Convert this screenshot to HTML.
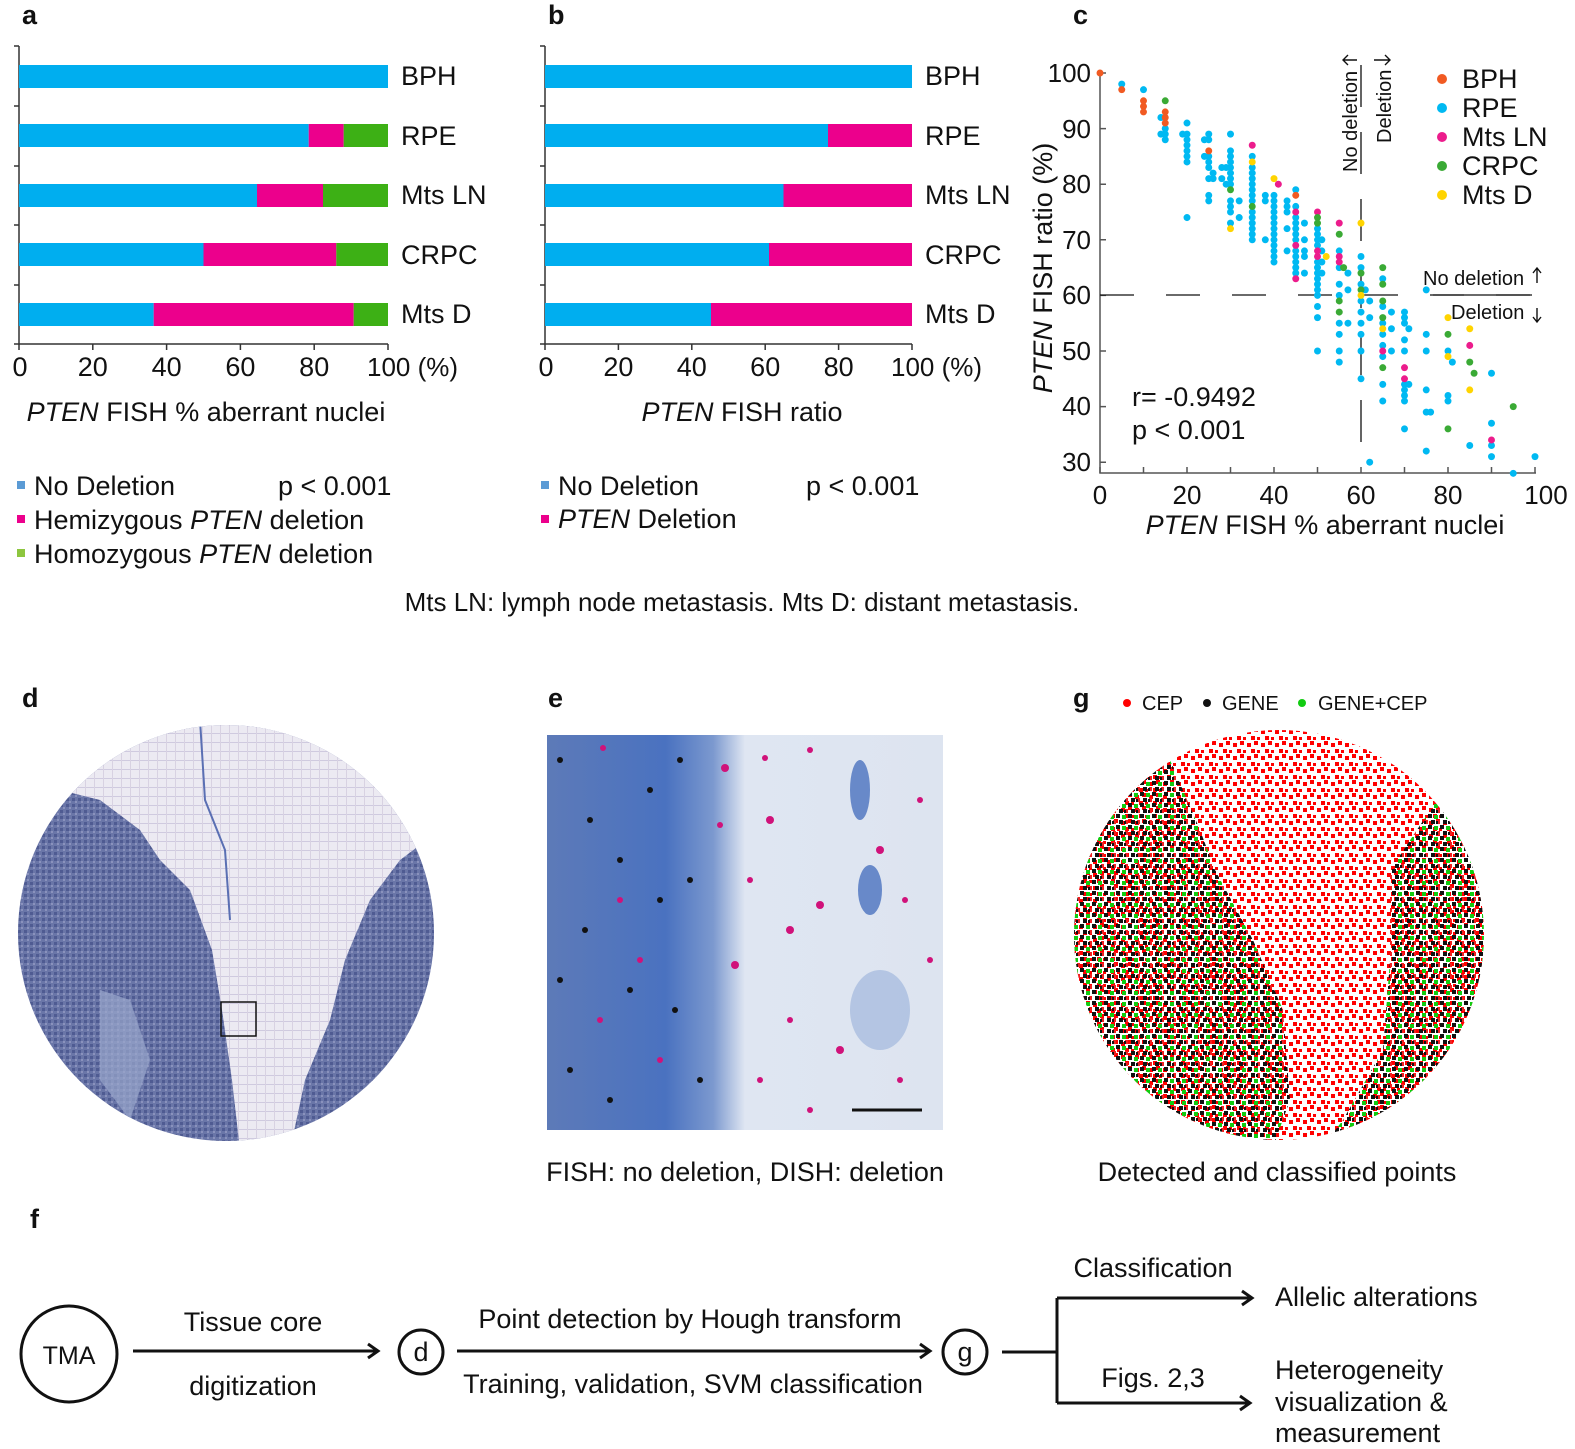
<!DOCTYPE html>
<html><head><meta charset="utf-8"><style>
html,body{margin:0;padding:0;background:#fff}
svg{display:block;font-family:"Liberation Sans",Arial,sans-serif}
</style></head><body>
<svg width="1575" height="1449" viewBox="0 0 1575 1449" xmlns="http://www.w3.org/2000/svg">
<defs>
<pattern id="redp" width="14" height="13" patternUnits="userSpaceOnUse">
<rect x="1" y="2" width="4" height="4" fill="#f00"/><rect x="8" y="0" width="4" height="4" fill="#f00"/><rect x="5" y="8" width="4" height="4" fill="#f00"/><rect x="11" y="9" width="3" height="3" fill="#f00"/>
</pattern>
<pattern id="darkp" width="12" height="11" patternUnits="userSpaceOnUse">
<rect x="0" y="0" width="4" height="4" fill="#111"/><rect x="6" y="1" width="4" height="4" fill="#1c1"/><rect x="3" y="6" width="4" height="4" fill="#111"/><rect x="9" y="6" width="3" height="4" fill="#e22"/><rect x="8" y="7" width="2" height="3" fill="#111"/>
</pattern>
<pattern id="bluep" width="6" height="6" patternUnits="userSpaceOnUse">
<rect width="6" height="6" fill="#6a76a8"/><rect x="0" y="0" width="3" height="3" fill="#4f5b92"/><rect x="3" y="3" width="2" height="2" fill="#8a92bd"/>
</pattern>
<pattern id="lightp" width="9" height="9" patternUnits="userSpaceOnUse">
<rect width="9" height="9" fill="#eceaf2"/><rect x="0" y="4" width="9" height="1" fill="#cfcadf"/><rect x="4" y="0" width="1" height="9" fill="#d8d2e2"/>
</pattern>
<linearGradient id="eg" x1="0" x2="1" y1="0" y2="0">
<stop offset="0" stop-color="#5d7ab8"/><stop offset="0.3" stop-color="#4a72c0"/><stop offset="0.42" stop-color="#7c99cf"/><stop offset="0.5" stop-color="#dfe6f2"/><stop offset="1" stop-color="#dde4f0"/>
</linearGradient>
<clipPath id="cd"><circle cx="226" cy="933" r="208"/></clipPath>
<clipPath id="cg"><circle cx="1279" cy="935" r="205"/></clipPath>
</defs>

<g font-weight="bold" font-size="27" fill="#111">
<text x="22" y="24">a</text><text x="548" y="24">b</text><text x="1073" y="24">c</text>
<text x="22" y="707">d</text><text x="548" y="707">e</text><text x="1073" y="707">g</text>
<text x="30" y="1228">f</text>
</g>

<!-- Panel a -->
<g stroke="#333" stroke-width="1.5" fill="none">
<path d="M19 46 V344 H388"/>
<path d="M14 46H19M14 106H19M14 166H19M14 225H19M14 285H19M14 344H19"/>
<path d="M19 344V350M92.8 344V350M166.6 344V350M240.4 344V350M314.2 344V350M388 344V350"/>
</g>
<g>
<rect x="19" y="65" width="369" height="23" fill="#00aeef"/>
<rect x="19" y="124" width="289.7" height="23" fill="#00aeef"/><rect x="308.7" y="124" width="35" height="23" fill="#ec008c"/><rect x="343.7" y="124" width="44.3" height="23" fill="#3db015"/>
<rect x="19" y="184" width="238" height="23" fill="#00aeef"/><rect x="257" y="184" width="66" height="23" fill="#ec008c"/><rect x="323" y="184" width="65" height="23" fill="#3db015"/>
<rect x="19" y="243" width="184.5" height="23" fill="#00aeef"/><rect x="203.5" y="243" width="132.8" height="23" fill="#ec008c"/><rect x="336.3" y="243" width="51.7" height="23" fill="#3db015"/>
<rect x="19" y="303" width="134.7" height="23" fill="#00aeef"/><rect x="153.7" y="303" width="200" height="23" fill="#ec008c"/><rect x="353.7" y="303" width="34.3" height="23" fill="#3db015"/>
</g>
<g font-size="27" fill="#111">
<text x="401" y="85">BPH</text><text x="401" y="145">RPE</text><text x="401" y="204">Mts LN</text><text x="401" y="264">CRPC</text><text x="401" y="323">Mts D</text>
<g text-anchor="middle"><text x="20" y="376">0</text><text x="92.8" y="376">20</text><text x="166.6" y="376">40</text><text x="240.4" y="376">60</text><text x="314.2" y="376">80</text></g>
<text x="367" y="376" font-size="26">100 (%)</text>
<text x="206" y="421" text-anchor="middle"><tspan font-style="italic">PTEN</tspan> FISH % aberrant nuclei</text>
</g>

<!-- Panel b -->
<g stroke="#333" stroke-width="1.5" fill="none">
<path d="M545 46 V344 H912"/>
<path d="M540 46H545M540 106H545M540 166H545M540 225H545M540 285H545M540 344H545"/>
<path d="M545 344V350M618.4 344V350M691.8 344V350M765.2 344V350M838.6 344V350M912 344V350"/>
</g>
<g>
<rect x="545" y="65" width="367" height="23" fill="#00aeef"/>
<rect x="545" y="124" width="283" height="23" fill="#00aeef"/><rect x="828" y="124" width="84" height="23" fill="#ec008c"/>
<rect x="545" y="184" width="238.5" height="23" fill="#00aeef"/><rect x="783.5" y="184" width="128.5" height="23" fill="#ec008c"/>
<rect x="545" y="243" width="224" height="23" fill="#00aeef"/><rect x="769" y="243" width="143" height="23" fill="#ec008c"/>
<rect x="545" y="303" width="166" height="23" fill="#00aeef"/><rect x="711" y="303" width="201" height="23" fill="#ec008c"/>
</g>
<g font-size="27" fill="#111">
<text x="925" y="85">BPH</text><text x="925" y="145">RPE</text><text x="925" y="204">Mts LN</text><text x="925" y="264">CRPC</text><text x="925" y="323">Mts D</text>
<g text-anchor="middle"><text x="546" y="376">0</text><text x="618.4" y="376">20</text><text x="691.8" y="376">40</text><text x="765.2" y="376">60</text><text x="838.6" y="376">80</text></g>
<text x="891" y="376" font-size="26">100 (%)</text>
<text x="742" y="421" text-anchor="middle"><tspan font-style="italic">PTEN</tspan> FISH ratio</text>
</g>

<g font-size="27" fill="#111">
<rect x="17" y="481" width="8" height="8" fill="#5b9bd5"/><text x="34" y="495">No Deletion</text><text x="278" y="495">p &lt; 0.001</text>
<rect x="17" y="515" width="8" height="8" fill="#ec008c"/><text x="34" y="529">Hemizygous <tspan font-style="italic">PTEN</tspan> deletion</text>
<rect x="17" y="549" width="8" height="8" fill="#8dc63f"/><text x="34" y="563">Homozygous <tspan font-style="italic">PTEN</tspan> deletion</text>
<rect x="541" y="481" width="8" height="8" fill="#5b9bd5"/><text x="558" y="495">No Deletion</text><text x="806" y="495">p &lt; 0.001</text>
<rect x="541" y="515" width="8" height="8" fill="#ec008c"/><text x="558" y="528"><tspan font-style="italic">PTEN</tspan> Deletion</text>
<text x="742" y="611" text-anchor="middle" font-size="26">Mts LN: lymph node metastasis. Mts D: distant metastasis.</text>
</g>

<!-- Panel c -->
<g stroke="#555" stroke-width="1.5" fill="none">
<path d="M1100 70 V473 H1536"/>
<path d="M1100 73H1106M1100 128.6H1106M1100 184.2H1106M1100 239.8H1106M1100 295.4H1106M1100 351H1106M1100 406.6H1106M1100 462.2H1106"/>
<path d="M1100 473V467M1143.5 473V467M1187 473V467M1230.5 473V467M1274 473V467M1317.5 473V467M1361 473V467M1404.5 473V467M1448 473V467M1491.5 473V467M1535 473V467"/>
</g>
<g stroke="#111" stroke-width="1.3" fill="none">
<path d="M1100 295 H1535" stroke-dasharray="34 32"/>
<path d="M1361 65 V460" stroke-dasharray="42 25"/>
<path d="M1433 295 H1532"/>
</g>
<g transform="matrix(4.35 0 0 -5.56 1100 629)">
<g fill="#00b9f2">
<ellipse cx="5" cy="98" rx="0.8" ry="0.63"/><ellipse cx="10" cy="97" rx="0.8" ry="0.63"/>
<ellipse cx="14" cy="92" rx="0.8" ry="0.63"/><ellipse cx="14" cy="89" rx="0.8" ry="0.63"/>
<ellipse cx="15" cy="90" rx="0.8" ry="0.63"/><ellipse cx="15" cy="89" rx="0.8" ry="0.63"/><ellipse cx="15" cy="88" rx="0.8" ry="0.63"/>
<ellipse cx="19" cy="89" rx="0.8" ry="0.63"/>
<ellipse cx="20" cy="91" rx="0.8" ry="0.63"/><ellipse cx="20" cy="89" rx="0.8" ry="0.63"/><ellipse cx="20" cy="88" rx="0.8" ry="0.63"/><ellipse cx="20" cy="87" rx="0.8" ry="0.63"/><ellipse cx="20" cy="86" rx="0.8" ry="0.63"/><ellipse cx="20" cy="85" rx="0.8" ry="0.63"/><ellipse cx="20" cy="84" rx="0.8" ry="0.63"/><ellipse cx="20" cy="74" rx="0.8" ry="0.63"/>
<ellipse cx="24" cy="88" rx="0.8" ry="0.63"/><ellipse cx="24" cy="85" rx="0.8" ry="0.63"/>
<ellipse cx="25" cy="89" rx="0.8" ry="0.63"/><ellipse cx="25" cy="88" rx="0.8" ry="0.63"/><ellipse cx="25" cy="85" rx="0.8" ry="0.63"/><ellipse cx="25" cy="84" rx="0.8" ry="0.63"/><ellipse cx="25" cy="83" rx="0.8" ry="0.63"/><ellipse cx="25" cy="81" rx="0.8" ry="0.63"/><ellipse cx="25" cy="78" rx="0.8" ry="0.63"/><ellipse cx="25" cy="77" rx="0.8" ry="0.63"/>
<ellipse cx="26" cy="82" rx="0.8" ry="0.63"/><ellipse cx="26" cy="81" rx="0.8" ry="0.63"/>
<ellipse cx="28" cy="83" rx="0.8" ry="0.63"/><ellipse cx="28" cy="81" rx="0.8" ry="0.63"/><ellipse cx="29" cy="83" rx="0.8" ry="0.63"/><ellipse cx="29" cy="80" rx="0.8" ry="0.63"/>
<ellipse cx="30" cy="89" rx="0.8" ry="0.63"/><ellipse cx="30" cy="86" rx="0.8" ry="0.63"/><ellipse cx="30" cy="85" rx="0.8" ry="0.63"/><ellipse cx="30" cy="84" rx="0.8" ry="0.63"/><ellipse cx="30" cy="83" rx="0.8" ry="0.63"/><ellipse cx="30" cy="82" rx="0.8" ry="0.63"/><ellipse cx="30" cy="81" rx="0.8" ry="0.63"/><ellipse cx="30" cy="80" rx="0.8" ry="0.63"/><ellipse cx="30" cy="77" rx="0.8" ry="0.63"/><ellipse cx="30" cy="76" rx="0.8" ry="0.63"/><ellipse cx="30" cy="75" rx="0.8" ry="0.63"/><ellipse cx="30" cy="73" rx="0.8" ry="0.63"/>
<ellipse cx="32" cy="77" rx="0.8" ry="0.63"/><ellipse cx="32" cy="74" rx="0.8" ry="0.63"/>
<ellipse cx="35" cy="85" rx="0.8" ry="0.63"/><ellipse cx="35" cy="83" rx="0.8" ry="0.63"/><ellipse cx="35" cy="82" rx="0.8" ry="0.63"/><ellipse cx="35" cy="81" rx="0.8" ry="0.63"/><ellipse cx="35" cy="80" rx="0.8" ry="0.63"/><ellipse cx="35" cy="79" rx="0.8" ry="0.63"/><ellipse cx="35" cy="78" rx="0.8" ry="0.63"/><ellipse cx="35" cy="77" rx="0.8" ry="0.63"/><ellipse cx="35" cy="75" rx="0.8" ry="0.63"/><ellipse cx="35" cy="74" rx="0.8" ry="0.63"/><ellipse cx="35" cy="73" rx="0.8" ry="0.63"/><ellipse cx="35" cy="72" rx="0.8" ry="0.63"/><ellipse cx="35" cy="71" rx="0.8" ry="0.63"/><ellipse cx="35" cy="70" rx="0.8" ry="0.63"/>
<ellipse cx="38" cy="78" rx="0.8" ry="0.63"/><ellipse cx="38" cy="77" rx="0.8" ry="0.63"/><ellipse cx="38" cy="70" rx="0.8" ry="0.63"/>
<ellipse cx="40" cy="78" rx="0.8" ry="0.63"/><ellipse cx="40" cy="77" rx="0.8" ry="0.63"/><ellipse cx="40" cy="76" rx="0.8" ry="0.63"/><ellipse cx="40" cy="75" rx="0.8" ry="0.63"/><ellipse cx="40" cy="74" rx="0.8" ry="0.63"/><ellipse cx="40" cy="73" rx="0.8" ry="0.63"/><ellipse cx="40" cy="72" rx="0.8" ry="0.63"/><ellipse cx="40" cy="71" rx="0.8" ry="0.63"/><ellipse cx="40" cy="70" rx="0.8" ry="0.63"/><ellipse cx="40" cy="69" rx="0.8" ry="0.63"/><ellipse cx="40" cy="68" rx="0.8" ry="0.63"/><ellipse cx="40" cy="67" rx="0.8" ry="0.63"/><ellipse cx="40" cy="66" rx="0.8" ry="0.63"/>
<ellipse cx="43" cy="77" rx="0.8" ry="0.63"/><ellipse cx="43" cy="76" rx="0.8" ry="0.63"/><ellipse cx="43" cy="75" rx="0.8" ry="0.63"/><ellipse cx="43" cy="72" rx="0.8" ry="0.63"/><ellipse cx="43" cy="68" rx="0.8" ry="0.63"/>
<ellipse cx="45" cy="79" rx="0.8" ry="0.63"/><ellipse cx="45" cy="76" rx="0.8" ry="0.63"/><ellipse cx="45" cy="74" rx="0.8" ry="0.63"/><ellipse cx="45" cy="73" rx="0.8" ry="0.63"/><ellipse cx="45" cy="72" rx="0.8" ry="0.63"/><ellipse cx="45" cy="71" rx="0.8" ry="0.63"/><ellipse cx="45" cy="70" rx="0.8" ry="0.63"/><ellipse cx="45" cy="68" rx="0.8" ry="0.63"/><ellipse cx="45" cy="67" rx="0.8" ry="0.63"/><ellipse cx="45" cy="66" rx="0.8" ry="0.63"/><ellipse cx="45" cy="65" rx="0.8" ry="0.63"/><ellipse cx="45" cy="64" rx="0.8" ry="0.63"/>
<ellipse cx="47" cy="73" rx="0.8" ry="0.63"/><ellipse cx="47" cy="70" rx="0.8" ry="0.63"/><ellipse cx="47" cy="68" rx="0.8" ry="0.63"/><ellipse cx="47" cy="67" rx="0.8" ry="0.63"/><ellipse cx="47" cy="64" rx="0.8" ry="0.63"/>
<ellipse cx="50" cy="72" rx="0.8" ry="0.63"/><ellipse cx="50" cy="71" rx="0.8" ry="0.63"/><ellipse cx="50" cy="70" rx="0.8" ry="0.63"/><ellipse cx="50" cy="69" rx="0.8" ry="0.63"/><ellipse cx="50" cy="66" rx="0.8" ry="0.63"/><ellipse cx="50" cy="65" rx="0.8" ry="0.63"/><ellipse cx="50" cy="64" rx="0.8" ry="0.63"/><ellipse cx="50" cy="63" rx="0.8" ry="0.63"/><ellipse cx="50" cy="62" rx="0.8" ry="0.63"/><ellipse cx="50" cy="61" rx="0.8" ry="0.63"/><ellipse cx="50" cy="60" rx="0.8" ry="0.63"/><ellipse cx="50" cy="58" rx="0.8" ry="0.63"/><ellipse cx="50" cy="56" rx="0.8" ry="0.63"/><ellipse cx="50" cy="50" rx="0.8" ry="0.63"/>
<ellipse cx="51" cy="70" rx="0.8" ry="0.63"/><ellipse cx="51" cy="68" rx="0.8" ry="0.63"/><ellipse cx="51" cy="66" rx="0.8" ry="0.63"/><ellipse cx="51" cy="64" rx="0.8" ry="0.63"/>
<ellipse cx="55" cy="68" rx="0.8" ry="0.63"/><ellipse cx="55" cy="65" rx="0.8" ry="0.63"/><ellipse cx="55" cy="62" rx="0.8" ry="0.63"/><ellipse cx="55" cy="60" rx="0.8" ry="0.63"/><ellipse cx="55" cy="55" rx="0.8" ry="0.63"/><ellipse cx="55" cy="53" rx="0.8" ry="0.63"/><ellipse cx="55" cy="50" rx="0.8" ry="0.63"/><ellipse cx="55" cy="48" rx="0.8" ry="0.63"/>
<ellipse cx="57" cy="64" rx="0.8" ry="0.63"/><ellipse cx="57" cy="61" rx="0.8" ry="0.63"/><ellipse cx="57" cy="55" rx="0.8" ry="0.63"/>
<ellipse cx="60" cy="67" rx="0.8" ry="0.63"/><ellipse cx="60" cy="65" rx="0.8" ry="0.63"/><ellipse cx="60" cy="62" rx="0.8" ry="0.63"/><ellipse cx="60" cy="59" rx="0.8" ry="0.63"/><ellipse cx="60" cy="57" rx="0.8" ry="0.63"/><ellipse cx="60" cy="55" rx="0.8" ry="0.63"/><ellipse cx="60" cy="53" rx="0.8" ry="0.63"/><ellipse cx="60" cy="50" rx="0.8" ry="0.63"/><ellipse cx="60" cy="45" rx="0.8" ry="0.63"/>
<ellipse cx="61" cy="61" rx="0.8" ry="0.63"/><ellipse cx="62" cy="59" rx="0.8" ry="0.63"/><ellipse cx="62" cy="56" rx="0.8" ry="0.63"/><ellipse cx="62" cy="30" rx="0.8" ry="0.63"/>
<ellipse cx="65" cy="63" rx="0.8" ry="0.63"/><ellipse cx="65" cy="58" rx="0.8" ry="0.63"/><ellipse cx="65" cy="55" rx="0.8" ry="0.63"/><ellipse cx="65" cy="53" rx="0.8" ry="0.63"/><ellipse cx="65" cy="51" rx="0.8" ry="0.63"/><ellipse cx="65" cy="49" rx="0.8" ry="0.63"/><ellipse cx="65" cy="44" rx="0.8" ry="0.63"/><ellipse cx="65" cy="41" rx="0.8" ry="0.63"/>
<ellipse cx="67" cy="57" rx="0.8" ry="0.63"/><ellipse cx="67" cy="54" rx="0.8" ry="0.63"/><ellipse cx="67" cy="50" rx="0.8" ry="0.63"/>
<ellipse cx="70" cy="57" rx="0.8" ry="0.63"/><ellipse cx="70" cy="56" rx="0.8" ry="0.63"/><ellipse cx="70" cy="55" rx="0.8" ry="0.63"/><ellipse cx="70" cy="52" rx="0.8" ry="0.63"/><ellipse cx="70" cy="50" rx="0.8" ry="0.63"/><ellipse cx="70" cy="44" rx="0.8" ry="0.63"/><ellipse cx="70" cy="43" rx="0.8" ry="0.63"/><ellipse cx="70" cy="42" rx="0.8" ry="0.63"/><ellipse cx="70" cy="41" rx="0.8" ry="0.63"/><ellipse cx="70" cy="36" rx="0.8" ry="0.63"/>
<ellipse cx="71" cy="54" rx="0.8" ry="0.63"/><ellipse cx="71" cy="44" rx="0.8" ry="0.63"/>
<ellipse cx="75" cy="61" rx="0.8" ry="0.63"/><ellipse cx="75" cy="53" rx="0.8" ry="0.63"/><ellipse cx="75" cy="50" rx="0.8" ry="0.63"/><ellipse cx="75" cy="43" rx="0.8" ry="0.63"/><ellipse cx="75" cy="39" rx="0.8" ry="0.63"/><ellipse cx="75" cy="32" rx="0.8" ry="0.63"/><ellipse cx="76" cy="39" rx="0.8" ry="0.63"/>
<ellipse cx="80" cy="50" rx="0.8" ry="0.63"/><ellipse cx="80" cy="42" rx="0.8" ry="0.63"/><ellipse cx="80" cy="41" rx="0.8" ry="0.63"/><ellipse cx="81" cy="48" rx="0.8" ry="0.63"/>
<ellipse cx="85" cy="33" rx="0.8" ry="0.63"/><ellipse cx="90" cy="46" rx="0.8" ry="0.63"/><ellipse cx="90" cy="37" rx="0.8" ry="0.63"/><ellipse cx="90" cy="33" rx="0.8" ry="0.63"/><ellipse cx="90" cy="31" rx="0.8" ry="0.63"/>
<ellipse cx="95" cy="28" rx="0.8" ry="0.63"/><ellipse cx="100" cy="31" rx="0.8" ry="0.63"/>
</g>
<g fill="#f15a22">
<ellipse cx="0" cy="100" rx="0.8" ry="0.63"/><ellipse cx="5" cy="97" rx="0.8" ry="0.63"/><ellipse cx="10" cy="95" rx="0.8" ry="0.63"/><ellipse cx="10" cy="94" rx="0.8" ry="0.63"/><ellipse cx="10" cy="93" rx="0.8" ry="0.63"/><ellipse cx="15" cy="93" rx="0.8" ry="0.63"/><ellipse cx="15" cy="92" rx="0.8" ry="0.63"/><ellipse cx="15" cy="91" rx="0.8" ry="0.63"/><ellipse cx="25" cy="86" rx="0.8" ry="0.63"/><ellipse cx="45" cy="78" rx="0.8" ry="0.63"/>
</g>
<g fill="#ec1c8c">
<ellipse cx="35" cy="87" rx="0.8" ry="0.63"/><ellipse cx="41" cy="80" rx="0.8" ry="0.63"/><ellipse cx="45" cy="75" rx="0.8" ry="0.63"/><ellipse cx="45" cy="69" rx="0.8" ry="0.63"/><ellipse cx="45" cy="63" rx="0.8" ry="0.63"/><ellipse cx="50" cy="75" rx="0.8" ry="0.63"/><ellipse cx="50" cy="68" rx="0.8" ry="0.63"/><ellipse cx="50" cy="67" rx="0.8" ry="0.63"/><ellipse cx="55" cy="73" rx="0.8" ry="0.63"/><ellipse cx="55" cy="67" rx="0.8" ry="0.63"/><ellipse cx="55" cy="66" rx="0.8" ry="0.63"/><ellipse cx="65" cy="50" rx="0.8" ry="0.63"/><ellipse cx="70" cy="47" rx="0.8" ry="0.63"/><ellipse cx="70" cy="45" rx="0.8" ry="0.63"/><ellipse cx="85" cy="51" rx="0.8" ry="0.63"/><ellipse cx="90" cy="34" rx="0.8" ry="0.63"/>
</g>
<g fill="#3aaa35">
<ellipse cx="15" cy="95" rx="0.8" ry="0.63"/><ellipse cx="30" cy="79" rx="0.8" ry="0.63"/><ellipse cx="35" cy="76" rx="0.8" ry="0.63"/><ellipse cx="50" cy="74" rx="0.8" ry="0.63"/><ellipse cx="50" cy="73" rx="0.8" ry="0.63"/><ellipse cx="55" cy="71" rx="0.8" ry="0.63"/><ellipse cx="55" cy="59" rx="0.8" ry="0.63"/><ellipse cx="55" cy="57" rx="0.8" ry="0.63"/><ellipse cx="56" cy="65" rx="0.8" ry="0.63"/><ellipse cx="60" cy="64" rx="0.8" ry="0.63"/><ellipse cx="60" cy="61" rx="0.8" ry="0.63"/><ellipse cx="65" cy="65" rx="0.8" ry="0.63"/><ellipse cx="65" cy="62" rx="0.8" ry="0.63"/><ellipse cx="65" cy="59" rx="0.8" ry="0.63"/><ellipse cx="65" cy="56" rx="0.8" ry="0.63"/><ellipse cx="65" cy="47" rx="0.8" ry="0.63"/><ellipse cx="80" cy="53" rx="0.8" ry="0.63"/><ellipse cx="80" cy="36" rx="0.8" ry="0.63"/><ellipse cx="85" cy="48" rx="0.8" ry="0.63"/><ellipse cx="86" cy="46" rx="0.8" ry="0.63"/><ellipse cx="95" cy="40" rx="0.8" ry="0.63"/>
</g>
<g fill="#ffd400">
<ellipse cx="30" cy="72" rx="0.8" ry="0.63"/><ellipse cx="35" cy="84" rx="0.8" ry="0.63"/><ellipse cx="40" cy="81" rx="0.8" ry="0.63"/><ellipse cx="52" cy="67" rx="0.8" ry="0.63"/><ellipse cx="60" cy="73" rx="0.8" ry="0.63"/><ellipse cx="60" cy="60" rx="0.8" ry="0.63"/><ellipse cx="65" cy="54" rx="0.8" ry="0.63"/><ellipse cx="80" cy="56" rx="0.8" ry="0.63"/><ellipse cx="80" cy="49" rx="0.8" ry="0.63"/><ellipse cx="85" cy="54" rx="0.8" ry="0.63"/><ellipse cx="85" cy="43" rx="0.8" ry="0.63"/>
</g>
</g>
<g font-size="26" fill="#111">
<g text-anchor="end"><text x="1091" y="82">100</text><text x="1091" y="138">90</text><text x="1091" y="193">80</text><text x="1091" y="249">70</text><text x="1091" y="304">60</text><text x="1091" y="360">50</text><text x="1091" y="415">40</text><text x="1091" y="471">30</text></g>
<g text-anchor="middle"><text x="1100" y="504">0</text><text x="1187" y="504">20</text><text x="1274" y="504">40</text><text x="1361" y="504">60</text><text x="1448" y="504">80</text><text x="1546" y="504">100</text></g>
<text x="1325" y="534" text-anchor="middle" font-size="27"><tspan font-style="italic">PTEN</tspan> FISH % aberrant nuclei</text>
<text transform="translate(1052,268) rotate(-90)" text-anchor="middle" font-size="27"><tspan font-style="italic">PTEN</tspan> FISH ratio (%)</text>
<text x="1132" y="406" font-size="27">r= -0.9492</text><text x="1132" y="439" font-size="27">p &lt; 0.001</text>
<g font-size="27">
<circle cx="1442" cy="79" r="5" fill="#f15a22"/><text x="1462" y="88">BPH</text>
<circle cx="1442" cy="108" r="5" fill="#00b9f2"/><text x="1462" y="117">RPE</text>
<circle cx="1442" cy="137" r="5" fill="#ec1c8c"/><text x="1462" y="146">Mts LN</text>
<circle cx="1442" cy="166" r="5" fill="#3aaa35"/><text x="1462" y="175">CRPC</text>
<circle cx="1442" cy="195" r="5" fill="#ffd400"/><text x="1462" y="204">Mts D</text>
</g>
<g font-size="20">
<text transform="translate(1357,172) rotate(-90)">No deletion</text>
<text transform="translate(1391,143) rotate(-90)">Deletion</text>
<text x="1423" y="285">No deletion</text><text x="1451" y="319">Deletion</text>
</g>
</g>
<g stroke="#111" stroke-width="1.4" fill="none">
<path d="M1357 60 H1343 M1348 55 L1343 60 L1348 65"/>
<path d="M1374 60 H1390 M1385 55 L1390 60 L1385 65"/>
<path d="M1537 283 V268 M1533 273 L1537 268 L1541 273"/>
<path d="M1537 308 V322 M1533 317 L1537 322 L1541 317"/>
</g>

<!-- Panel d -->
<g clip-path="url(#cd)">
<rect x="15" y="720" width="425" height="430" fill="url(#bluep)"/>
<path d="M40 700 L440 700 L440 830 L400 860 L370 900 L345 960 L330 1020 L305 1080 L290 1150 L240 1150 L232 1080 L222 1010 L212 950 L190 890 L160 860 L140 830 L100 800 L60 790 Z" fill="url(#lightp)"/>
<path d="M100 990 L130 1000 L150 1060 L130 1120 L100 1080 Z" fill="#9aa6cc" opacity="0.7"/>
<path d="M200 720 L205 800 L225 850 L230 920" stroke="#5a6fb3" stroke-width="2" fill="none"/>
</g>
<rect x="221" y="1002" width="35" height="34" fill="none" stroke="#111" stroke-width="1.5"/>

<!-- Panel e -->
<rect x="547" y="735" width="396" height="395" fill="url(#eg)"/>
<ellipse cx="860" cy="790" rx="10" ry="30" fill="#4a72bf" opacity="0.8"/>
<ellipse cx="870" cy="890" rx="12" ry="25" fill="#4a72bf" opacity="0.8"/>
<ellipse cx="880" cy="1010" rx="30" ry="40" fill="#8aa5d6" opacity="0.5"/>
<g fill="#d0127a">
<circle cx="603" cy="748" r="3"/><circle cx="725" cy="768" r="4"/><circle cx="765" cy="758" r="3"/><circle cx="810" cy="750" r="3"/><circle cx="770" cy="820" r="4"/><circle cx="720" cy="825" r="3"/><circle cx="820" cy="905" r="4"/><circle cx="750" cy="880" r="3"/><circle cx="790" cy="930" r="4"/><circle cx="880" cy="850" r="4"/><circle cx="905" cy="900" r="3"/><circle cx="920" cy="800" r="3"/><circle cx="735" cy="965" r="4"/><circle cx="790" cy="1020" r="3"/><circle cx="840" cy="1050" r="4"/><circle cx="900" cy="1080" r="3"/><circle cx="810" cy="1110" r="3"/><circle cx="620" cy="900" r="3"/><circle cx="640" cy="960" r="3"/><circle cx="600" cy="1020" r="3"/><circle cx="660" cy="1060" r="3"/><circle cx="930" cy="960" r="3"/><circle cx="760" cy="1080" r="3"/>
</g>
<g fill="#111">
<circle cx="560" cy="760" r="3"/><circle cx="590" cy="820" r="3"/><circle cx="620" cy="860" r="3"/><circle cx="650" cy="790" r="3"/><circle cx="660" cy="900" r="3"/><circle cx="585" cy="930" r="3"/><circle cx="630" cy="990" r="3"/><circle cx="675" cy="1010" r="3"/><circle cx="570" cy="1070" r="3"/><circle cx="690" cy="880" r="3"/><circle cx="610" cy="1100" r="3"/><circle cx="680" cy="760" r="3"/><circle cx="560" cy="980" r="3"/><circle cx="700" cy="1080" r="3"/>
</g>
<line x1="852" y1="1110" x2="922" y2="1110" stroke="#111" stroke-width="3"/>
<text x="745" y="1181" text-anchor="middle" font-size="27" fill="#111">FISH: no deletion, DISH: deletion</text>

<!-- Panel g -->
<g font-size="20" fill="#111">
<circle cx="1127" cy="703" r="4" fill="#f00"/><text x="1142" y="710">CEP</text>
<circle cx="1207" cy="703" r="4" fill="#111"/><text x="1222" y="710">GENE</text>
<circle cx="1302" cy="703" r="4" fill="#1c1"/><text x="1318" y="710">GENE+CEP</text>
</g>
<g clip-path="url(#cg)">
<rect x="1070" y="725" width="420" height="425" fill="url(#redp)"/>
<path d="M1060 720 L1140 720 L1170 760 L1200 830 L1215 870 L1253 940 L1283 1010 L1290 1100 L1272 1150 L1060 1150 Z" fill="url(#darkp)"/>
<path d="M1500 780 L1437 800 L1390 870 L1390 960 L1383 1050 L1343 1120 L1320 1150 L1500 1150 Z" fill="url(#darkp)"/>
</g>
<text x="1277" y="1181" text-anchor="middle" font-size="27" fill="#111">Detected and classified points</text>

<!-- Panel f -->
<g stroke="#111" stroke-width="3" fill="none">
<circle cx="69" cy="1354" r="48"/>
<circle cx="421" cy="1352" r="22"/>
<circle cx="965" cy="1352" r="22"/>
<path d="M133 1351 H378 M368 1344 L378 1351 L368 1358"/>
<path d="M457 1351 H930 M920 1344 L930 1351 L920 1358"/>
<path d="M1002 1352 H1057 M1057 1298 V1403 M1057 1298 H1252 M1242 1291 L1252 1298 L1242 1305 M1057 1403 H1250 M1240 1396 L1250 1403 L1240 1410"/>
</g>
<g font-size="27" fill="#111">
<text x="69" y="1364" text-anchor="middle" font-size="25">TMA</text>
<text x="421" y="1361" text-anchor="middle">d</text>
<text x="965" y="1361" text-anchor="middle">g</text>
<text x="253" y="1331" text-anchor="middle">Tissue core</text>
<text x="253" y="1395" text-anchor="middle">digitization</text>
<text x="690" y="1328" text-anchor="middle">Point detection by Hough transform</text>
<text x="693" y="1393" text-anchor="middle">Training, validation, SVM classification</text>
<text x="1153" y="1277" text-anchor="middle">Classification</text>
<text x="1275" y="1306">Allelic alterations</text>
<text x="1153" y="1387" text-anchor="middle">Figs. 2,3</text>
<text x="1275" y="1379">Heterogeneity</text>
<text x="1275" y="1411">visualization &amp;</text>
<text x="1275" y="1442">measurement</text>
</g>
</svg>
</body></html>
